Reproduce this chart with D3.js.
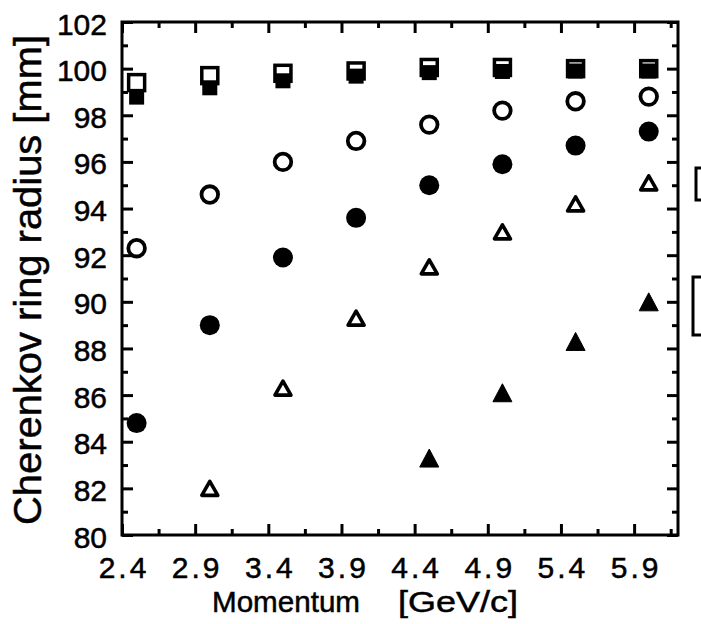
<!DOCTYPE html>
<html>
<head>
<meta charset="utf-8">
<script src="https://cdn.jsdelivr.net/npm/d3@7"></script>
<style>
  html, body { margin: 0; padding: 0; background: #fff; }
  svg { display: block; }
  text { font-family: "Liberation Sans", Arial, Helvetica, sans-serif; fill: #000;
         stroke: #000; stroke-width: 0.5px; }
</style>
</head>
<body>
<svg id="chart" width="701" height="624"></svg>
<script>
// ---- Data ----
const momentum = [2.5, 3.0, 3.5, 4.0, 4.5, 5.0, 5.5, 6.0];
const openSquares   = [99.4, 99.7, 99.8, 99.9, 100.05, 100.05, 100.0, 100.0];
const filledSquares = [98.8, 99.2, 99.5, 99.7, 99.85, 99.9, 99.92, 99.92];
const openCircles   = [92.3, 94.6, 96.0, 96.9, 97.6, 98.2, 98.6, 98.8];
const filledCircles = [84.8, 89.0, 91.9, 93.6, 95.0, 95.9, 96.7, 97.3];
const openTriMomentum = [3.0, 3.5, 4.0, 4.5, 5.0, 5.5, 6.0];
const openTriangles   = [82.0, 86.3, 89.3, 91.5, 93.0, 94.2, 95.1];
const filledTriMomentum = [4.5, 5.0, 5.5, 6.0];
const filledTriangles   = [83.3, 86.1, 88.3, 90.0];

const xMajorTicks = [2.4, 2.9, 3.4, 3.9, 4.4, 4.9, 5.4, 5.9];
const xMinorTicks = [2.65, 3.15, 3.65, 4.15, 4.65, 5.15, 5.65, 6.15];
const yMajorTicks = [80, 82, 84, 86, 88, 90, 92, 94, 96, 98, 100, 102];
const yMinorTicks = [81, 83, 85, 87, 89, 91, 93, 95, 97, 99, 101];
const xTitle = "Momentum";
const xUnit = "[GeV/c]";
const yTitle = "Cherenkov ring radius [mm]";

// ---- Layout ----
const svg = d3.select("#chart");
const L = 122, R = 678, T = 22, B = 535;
const x = d3.scaleLinear().domain([2.4, 6.2]).range([L, R]);
const y = d3.scaleLinear().domain([80, 102]).range([B, T]);
const majorLen = 11, minorLen = 6;

function styleAxis(g) {
  g.select(".domain").remove();
  g.selectAll(".tick line").attr("stroke", "#000").attr("stroke-width", 3);
}

// bottom axis
svg.append("g").attr("transform", `translate(0,${B})`)
  .call(d3.axisBottom(x).tickValues(xMajorTicks).tickSize(-majorLen).tickPadding(22)
        .tickFormat(d3.format(".1f")))
  .call(styleAxis)
  .call(g => g.selectAll("text").style("font-size", "30px").style("letter-spacing", "3px")
        .attr("dx", "1.5px"));
svg.append("g").attr("transform", `translate(0,${B})`)
  .call(d3.axisBottom(x).tickValues(xMinorTicks).tickSize(-minorLen).tickFormat(""))
  .call(styleAxis);
// top axis
svg.append("g").attr("transform", `translate(0,${T})`)
  .call(d3.axisTop(x).tickValues(xMajorTicks).tickSize(-majorLen).tickFormat(""))
  .call(styleAxis);
svg.append("g").attr("transform", `translate(0,${T})`)
  .call(d3.axisTop(x).tickValues(xMinorTicks).tickSize(-minorLen).tickFormat(""))
  .call(styleAxis);
// left axis
svg.append("g").attr("transform", `translate(${L},0)`)
  .call(d3.axisLeft(y).tickValues(yMajorTicks).tickSize(-majorLen).tickPadding(15)
        .tickFormat(d3.format("d")))
  .call(styleAxis)
  .call(g => g.selectAll("text").style("font-size", "30px").attr("dy", "0.4em"));
svg.append("g").attr("transform", `translate(${L},0)`)
  .call(d3.axisLeft(y).tickValues(yMinorTicks).tickSize(-minorLen).tickFormat(""))
  .call(styleAxis);
// right axis
svg.append("g").attr("transform", `translate(${R},0)`)
  .call(d3.axisRight(y).tickValues(yMajorTicks).tickSize(-majorLen).tickFormat(""))
  .call(styleAxis);
svg.append("g").attr("transform", `translate(${R},0)`)
  .call(d3.axisRight(y).tickValues(yMinorTicks).tickSize(-minorLen).tickFormat(""))
  .call(styleAxis);

// frame
svg.append("rect").attr("x", L).attr("y", T).attr("width", R - L).attr("height", B - T)
  .attr("fill", "none").attr("stroke", "#000").attr("stroke-width", 3);

// axis titles
svg.append("text").attr("x", 212).attr("y", 612).style("font-size", "30px")
  .attr("textLength", 148).attr("lengthAdjust", "spacingAndGlyphs").text(xTitle);
svg.append("text").attr("x", 398).attr("y", 612).style("font-size", "30px")
  .attr("textLength", 120).attr("lengthAdjust", "spacingAndGlyphs").text(xUnit);
svg.append("text")
  .attr("transform", `translate(41,525) rotate(-90)`)
  .attr("text-anchor", "start").style("font-size", "39px")
  .attr("textLength", 490).attr("lengthAdjust", "spacingAndGlyphs").text(yTitle);

// partially visible legend boxes at the right edge
svg.append("rect").attr("x", 696).attr("y", 168).attr("width", 20).attr("height", 32)
  .attr("fill", "none").attr("stroke", "#000").attr("stroke-width", 3);
svg.append("rect").attr("x", 693).attr("y", 277).attr("width", 20).attr("height", 58)
  .attr("fill", "none").attr("stroke", "#000").attr("stroke-width", 3);

// ---- Markers ----
const pts = (xs, ys) => xs.map((m, i) => ({ m, v: ys[i] }));
const marks = svg.append("g");

// open squares
marks.selectAll(".osq").data(pts(momentum, openSquares)).join("rect")
  .attr("x", d => x(d.m) - 8).attr("y", d => y(d.v) - 8)
  .attr("width", 16).attr("height", 16)
  .attr("fill", "#fff").attr("stroke", "#000").attr("stroke-width", 3.5);
// filled squares (drawn over)
marks.selectAll(".fsq").data(pts(momentum, filledSquares)).join("rect")
  .attr("x", d => x(d.m) - 7.5).attr("y", d => y(d.v) - 7)
  .attr("width", 15).attr("height", 15).attr("fill", "#000");

// open circles
marks.selectAll(".oc").data(pts(momentum, openCircles)).join("circle")
  .attr("cx", d => x(d.m)).attr("cy", d => y(d.v)).attr("r", 8.3)
  .attr("fill", "#fff").attr("stroke", "#000").attr("stroke-width", 3.8);
// filled circles
marks.selectAll(".fc").data(pts(momentum, filledCircles)).join("circle")
  .attr("cx", d => x(d.m)).attr("cy", d => y(d.v)).attr("r", 10).attr("fill", "#000");

// triangles (bbox centered on data point)
const tri = (cx, cy, w, h) =>
  `M${cx},${cy - h / 2}L${cx + w / 2},${cy + h / 2}L${cx - w / 2},${cy + h / 2}Z`;
marks.selectAll(".ot").data(pts(openTriMomentum, openTriangles)).join("path")
  .attr("d", d => tri(x(d.m), y(d.v), 16, 14))
  .attr("fill", "#fff").attr("stroke", "#000").attr("stroke-width", 3.6)
  .attr("stroke-linejoin", "round");
marks.selectAll(".ft").data(pts(filledTriMomentum, filledTriangles)).join("path")
  .attr("d", d => tri(x(d.m), y(d.v), 19, 18))
  .attr("fill", "#000").attr("stroke", "#000").attr("stroke-width", 1)
  .attr("stroke-linejoin", "round");
</script>
</body>
</html>
